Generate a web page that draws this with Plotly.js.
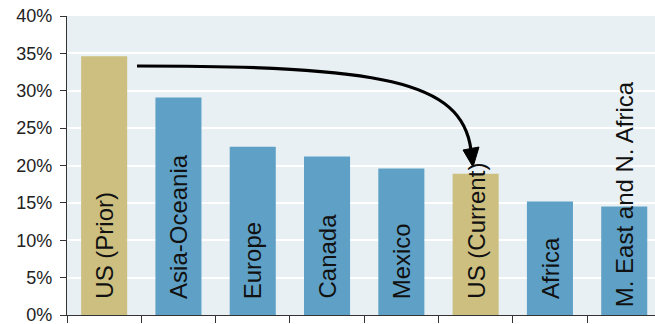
<!DOCTYPE html>
<html>
<head>
<meta charset="utf-8">
<script src="https://cdn.plot.ly/plotly-3.0.1.min.js"></script>
<style>html,body{margin:0;padding:0;background:#fff;}#chart{width:655px;height:324px;}</style>
</head>
<body>
<div id="chart"></div>
<script>
const categories = ["US (Prior)", "Asia-Oceania", "Europe", "Canada", "Mexico", "US (Current)", "Africa", "M. East and N. Africa"];
const values = [34.6, 29.1, 22.5, 21.2, 19.6, 18.9, 15.2, 14.5];
const isUS = [true, false, false, false, false, true, false, false];
const yTicks = [0, 5, 10, 15, 20, 25, 30, 35, 40];

const GOLD = "#cdbf80", BLUE = "#5fa1c6";
const L = 67, T = 16, W = 588, H = 299;
const px = x => (x - L) / W;
const py = y => (T + H - y) / H;

const trace = {
  type: "bar",
  x: categories,
  y: values,
  width: 0.62,
  marker: { color: isUS.map(u => u ? GOLD : BLUE), line: { width: 0 } },
  hoverinfo: "none"
};

const labelAnns = categories.map((c, i) => ({
  x: c, y: 0, xref: "x", yref: "y",
  text: c, showarrow: false, textangle: -90,
  xanchor: "center", yanchor: "bottom", yshift: i === 7 ? 6 : 14,
  font: { family: "Liberation Sans, Arial, sans-serif", size: 24, color: "#111" }
}));

// curved arrow (bezier) in paper coordinates
const P0 = [137, 66], P1 = [380, 66], P2 = [462, 80], P3 = [471, 150];
const curve = `M ${px(P0[0])},${py(P0[1])} C ${px(P1[0])},${py(P1[1])} ${px(P2[0])},${py(P2[1])} ${px(P3[0])},${py(P3[1])}`;
const head = `M ${px(473)},${py(167)} L ${px(479)},${py(147)} L ${px(463)},${py(150)} Z`;

const layout = {
  width: 655, height: 324,
  margin: { l: L, r: 0, t: T, b: 324 - T - H, pad: 0 },
  paper_bgcolor: "#ffffff",
  plot_bgcolor: "#e9f0f4",
  showlegend: false,
  xaxis: {
    type: "category",
    range: [-0.5, 7.414],
    showticklabels: false,
    ticks: "outside", ticklen: 7, tickwidth: 1, tickcolor: "#333",
    tickson: "boundaries",
    showgrid: false, zeroline: false,
    showline: true, linecolor: "#333", linewidth: 1.2
  },
  yaxis: {
    range: [0, 40],
    tickvals: yTicks,
    ticktext: yTicks.map(v => v + "%"),
    ticks: "outside", ticklen: 6, tickwidth: 1, tickcolor: "#333",
    ticklabelstandoff: 4,
    ticklabeloverflow: "allow",
    tickfont: { family: "Liberation Sans, Arial, sans-serif", size: 18, color: "#222" },
    showgrid: true, gridcolor: "#ffffff", gridwidth: 2,
    zeroline: false,
    showline: true, linecolor: "#333", linewidth: 1.2
  },
  shapes: [
    { type: "path", xref: "paper", yref: "paper", path: curve, line: { color: "#000", width: 3.2 }, layer: "above" },
    { type: "path", xref: "paper", yref: "paper", path: head, fillcolor: "#000", line: { color: "#000", width: 1 }, layer: "above" }
  ],
  annotations: labelAnns
};

Plotly.newPlot("chart", [trace], layout, { staticPlot: true, displayModeBar: false });
</script>
</body>
</html>
